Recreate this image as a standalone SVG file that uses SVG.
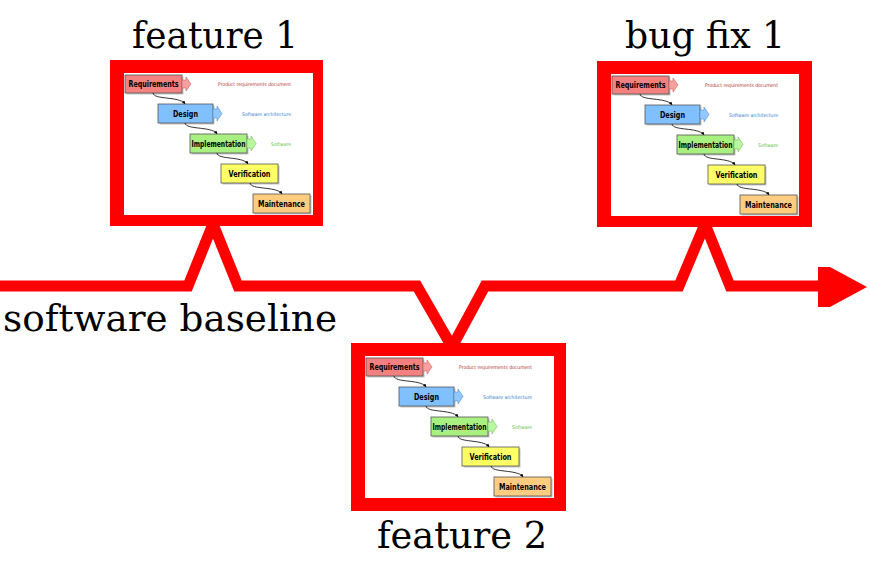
<svg xmlns="http://www.w3.org/2000/svg" width="870" height="567" viewBox="0 0 870 567">
<defs>
<style>
.lbl{font-family:"DejaVu Serif","Liberation Serif",serif;font-size:37px;fill:#000;text-anchor:middle}
.frame{fill:#ff0000}
.inner{fill:#ffffff}
.wb{stroke:#555;stroke-width:0.8}
.sh{fill:#888;opacity:0.5}
.wt{font-family:"DejaVu Sans Condensed","DejaVu Sans","Liberation Sans",sans-serif;font-weight:bold;font-size:8px;fill:#000;text-anchor:middle}
.st{font-family:"DejaVu Sans Condensed","DejaVu Sans","Liberation Sans",sans-serif;font-size:5px}
.cv{fill:none;stroke:#000;stroke-width:0.8;marker-end:url(#ah)}
.base{fill:none;stroke:#ff0000;stroke-width:11;stroke-linejoin:miter;stroke-miterlimit:10}
</style>
<marker id="ah" viewBox="0 0 6 6" refX="5" refY="3" markerWidth="4" markerHeight="4" orient="auto">
<path d="M0,0 L6,3 L0,6 z" fill="#000"/>
</marker>
</defs>
<rect width="870" height="567" fill="#fff"/>
<g id="connectors">
<polyline class="base" points="0,286 188,286 213,224 238,286 417,286 452,347 485,286 679,286 705,224 730,286 840,286"/>
<polygon points="818,267 830,267 867,287 830,307 818,307" fill="#ff0000"/>
</g>
<g id="feature1">
<rect class="frame" x="110" y="60" width="213" height="166"/>
<rect class="inner" x="124" y="73" width="189" height="142"/>
<g id="wf1">
<rect class="sh" x="126.5" y="76.5" width="57" height="18"/>
<rect class="wb" x="125" y="75" width="57" height="18" fill="#f48080"/>
<text class="wt" x="153.5" y="87" textLength="50" lengthAdjust="spacingAndGlyphs">Requirements</text>
<polygon points="182,80 186,80 186,77 191,84 186,91 186,88 182,88" fill="#f7a0a0" stroke="#d06060" stroke-width="0.6"/>
<text class="st" x="218" y="86" fill="#b03030" textLength="73" lengthAdjust="spacingAndGlyphs">Product requirements document</text>
<rect class="sh" x="159.5" y="105.5" width="55" height="19"/>
<rect class="wb" x="158" y="104" width="55" height="19" fill="#80c0ff"/>
<text class="wt" x="185.5" y="116.5" textLength="25" lengthAdjust="spacingAndGlyphs">Design</text>
<polygon points="213,109 217,109 217,106 222,113.5 217,121 217,118 213,118" fill="#90c8ff" stroke="#5090d0" stroke-width="0.6"/>
<text class="st" x="242" y="116" fill="#3080d0" textLength="49" lengthAdjust="spacingAndGlyphs">Software architecture</text>
<rect class="sh" x="191.5" y="135.5" width="57" height="19"/>
<rect class="wb" x="190" y="134" width="57" height="19" fill="#a8f080"/>
<text class="wt" x="218.5" y="146.5" textLength="54" lengthAdjust="spacingAndGlyphs">Implementation</text>
<polygon points="247,139 251,139 251,136 256,143.5 251,151 251,148 247,148" fill="#b8f8a0" stroke="#70c050" stroke-width="0.6"/>
<text class="st" x="271" y="145.5" fill="#60c040" textLength="20" lengthAdjust="spacingAndGlyphs">Software</text>
<rect class="sh" x="222.5" y="165.5" width="57" height="19"/>
<rect class="wb" x="221" y="164" width="57" height="19" fill="#ffff66"/>
<text class="wt" x="249.5" y="176.5" textLength="42" lengthAdjust="spacingAndGlyphs">Verification</text>
<rect class="sh" x="254.5" y="195.5" width="57" height="19"/>
<rect class="wb" x="253" y="194" width="57" height="19" fill="#ffcc80"/>
<text class="wt" x="281.5" y="206.5" textLength="47" lengthAdjust="spacingAndGlyphs">Maintenance</text>
<path class="cv" d="M153,93 C154,100 178,96 185,103.5"/>
<path class="cv" d="M185,123 C186,130 210,126 217,133.5"/>
<path class="cv" d="M217,153 C218,160 241,156 248,163.5"/>
<path class="cv" d="M250,183 C251,190 275,186 282,193.5"/>
</g>
<text class="lbl" x="215" y="48" textLength="166" lengthAdjust="spacingAndGlyphs">feature 1</text>
</g>
<g id="feature2">
<rect class="frame" x="351" y="343" width="215" height="168"/>
<rect class="inner" x="365" y="356" width="189" height="142"/>
<g id="wf2" transform="translate(241,283)">
<rect class="sh" x="126.5" y="76.5" width="57" height="18"/>
<rect class="wb" x="125" y="75" width="57" height="18" fill="#f48080"/>
<text class="wt" x="153.5" y="87" textLength="50" lengthAdjust="spacingAndGlyphs">Requirements</text>
<polygon points="182,80 186,80 186,77 191,84 186,91 186,88 182,88" fill="#f7a0a0" stroke="#d06060" stroke-width="0.6"/>
<text class="st" x="218" y="86" fill="#b03030" textLength="73" lengthAdjust="spacingAndGlyphs">Product requirements document</text>
<rect class="sh" x="159.5" y="105.5" width="55" height="19"/>
<rect class="wb" x="158" y="104" width="55" height="19" fill="#80c0ff"/>
<text class="wt" x="185.5" y="116.5" textLength="25" lengthAdjust="spacingAndGlyphs">Design</text>
<polygon points="213,109 217,109 217,106 222,113.5 217,121 217,118 213,118" fill="#90c8ff" stroke="#5090d0" stroke-width="0.6"/>
<text class="st" x="242" y="116" fill="#3080d0" textLength="49" lengthAdjust="spacingAndGlyphs">Software architecture</text>
<rect class="sh" x="191.5" y="135.5" width="57" height="19"/>
<rect class="wb" x="190" y="134" width="57" height="19" fill="#a8f080"/>
<text class="wt" x="218.5" y="146.5" textLength="54" lengthAdjust="spacingAndGlyphs">Implementation</text>
<polygon points="247,139 251,139 251,136 256,143.5 251,151 251,148 247,148" fill="#b8f8a0" stroke="#70c050" stroke-width="0.6"/>
<text class="st" x="271" y="145.5" fill="#60c040" textLength="20" lengthAdjust="spacingAndGlyphs">Software</text>
<rect class="sh" x="222.5" y="165.5" width="57" height="19"/>
<rect class="wb" x="221" y="164" width="57" height="19" fill="#ffff66"/>
<text class="wt" x="249.5" y="176.5" textLength="42" lengthAdjust="spacingAndGlyphs">Verification</text>
<rect class="sh" x="254.5" y="195.5" width="57" height="19"/>
<rect class="wb" x="253" y="194" width="57" height="19" fill="#ffcc80"/>
<text class="wt" x="281.5" y="206.5" textLength="47" lengthAdjust="spacingAndGlyphs">Maintenance</text>
<path class="cv" d="M153,93 C154,100 178,96 185,103.5"/>
<path class="cv" d="M185,123 C186,130 210,126 217,133.5"/>
<path class="cv" d="M217,153 C218,160 241,156 248,163.5"/>
<path class="cv" d="M250,183 C251,190 275,186 282,193.5"/>
</g>
<text class="lbl" x="462" y="548" textLength="170" lengthAdjust="spacingAndGlyphs">feature 2</text>
</g>
<g id="bugfix1">
<rect class="frame" x="597" y="61" width="215" height="166"/>
<rect class="inner" x="611" y="74" width="188" height="142"/>
<g id="wf3" transform="translate(487,1)">
<rect class="sh" x="126.5" y="76.5" width="57" height="18"/>
<rect class="wb" x="125" y="75" width="57" height="18" fill="#f48080"/>
<text class="wt" x="153.5" y="87" textLength="50" lengthAdjust="spacingAndGlyphs">Requirements</text>
<polygon points="182,80 186,80 186,77 191,84 186,91 186,88 182,88" fill="#f7a0a0" stroke="#d06060" stroke-width="0.6"/>
<text class="st" x="218" y="86" fill="#b03030" textLength="73" lengthAdjust="spacingAndGlyphs">Product requirements document</text>
<rect class="sh" x="159.5" y="105.5" width="55" height="19"/>
<rect class="wb" x="158" y="104" width="55" height="19" fill="#80c0ff"/>
<text class="wt" x="185.5" y="116.5" textLength="25" lengthAdjust="spacingAndGlyphs">Design</text>
<polygon points="213,109 217,109 217,106 222,113.5 217,121 217,118 213,118" fill="#90c8ff" stroke="#5090d0" stroke-width="0.6"/>
<text class="st" x="242" y="116" fill="#3080d0" textLength="49" lengthAdjust="spacingAndGlyphs">Software architecture</text>
<rect class="sh" x="191.5" y="135.5" width="57" height="19"/>
<rect class="wb" x="190" y="134" width="57" height="19" fill="#a8f080"/>
<text class="wt" x="218.5" y="146.5" textLength="54" lengthAdjust="spacingAndGlyphs">Implementation</text>
<polygon points="247,139 251,139 251,136 256,143.5 251,151 251,148 247,148" fill="#b8f8a0" stroke="#70c050" stroke-width="0.6"/>
<text class="st" x="271" y="145.5" fill="#60c040" textLength="20" lengthAdjust="spacingAndGlyphs">Software</text>
<rect class="sh" x="222.5" y="165.5" width="57" height="19"/>
<rect class="wb" x="221" y="164" width="57" height="19" fill="#ffff66"/>
<text class="wt" x="249.5" y="176.5" textLength="42" lengthAdjust="spacingAndGlyphs">Verification</text>
<rect class="sh" x="254.5" y="195.5" width="57" height="19"/>
<rect class="wb" x="253" y="194" width="57" height="19" fill="#ffcc80"/>
<text class="wt" x="281.5" y="206.5" textLength="47" lengthAdjust="spacingAndGlyphs">Maintenance</text>
<path class="cv" d="M153,93 C154,100 178,96 185,103.5"/>
<path class="cv" d="M185,123 C186,130 210,126 217,133.5"/>
<path class="cv" d="M217,153 C218,160 241,156 248,163.5"/>
<path class="cv" d="M250,183 C251,190 275,186 282,193.5"/>
</g>
<text class="lbl" x="705" y="48" textLength="160" lengthAdjust="spacingAndGlyphs">bug fix 1</text>
</g>
<g id="baseline-label">
<text class="lbl" x="170" y="331" textLength="334" lengthAdjust="spacingAndGlyphs">software baseline</text>
</g>
</svg>
